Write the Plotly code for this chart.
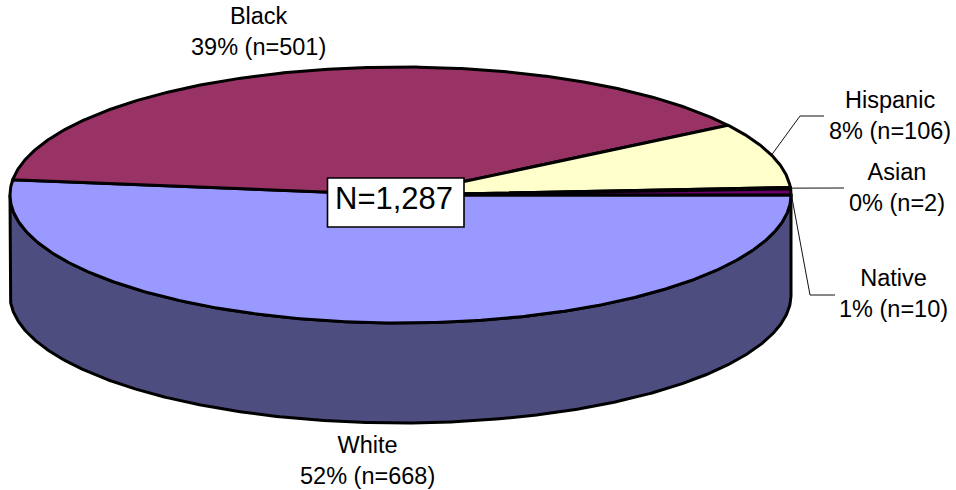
import numpy as np
import plotly.graph_objects as go

categories = ["White", "Black", "Hispanic", "Asian", "Native"]
counts = [668, 501, 106, 2, 10]
pct_labels = ["52%", "39%", "8%", "0%", "1%"]
colors = ["#9999FF", "#993366", "#FFFFCC", "#660066", "#660066"]
total_label = "N=1,287"

WALL = "#4D4D80"
CX, CY, RX, RY, DEPTH = 400.5, 195, 390.5, 128, 100
LW = 3
FONT = "Liberation Sans, Arial, sans-serif"

# label centre (px) and leader-line elbow points for each category
label_pos = {"White": (367, 460), "Black": (258, 31), "Hispanic": (890, 115),
             "Asian": (897, 187), "Native": (893, 293)}
leaders = {"Hispanic": [(800, 116), (824, 116)],
           "Asian": [(844, 188)],
           "Native": [(810, 295), (835, 295)]}

fractions = np.array(counts) / sum(counts)
edges = np.concatenate([[0], np.cumsum(fractions)]) * 2 * np.pi


def arc(a0, a1, dy=0.0):
    t = np.linspace(a0, a1, max(int((a1 - a0) * 120), 2))
    return CX + RX * np.cos(t), CY + dy + RY * np.sin(t)


fig = go.Figure()

# front wall of the cylinder
x_top, y_top = arc(0, np.pi)
x_bot, y_bot = arc(0, np.pi, DEPTH)
fig.add_trace(go.Scatter(
    x=np.concatenate([x_top, x_bot[::-1], x_top[:1]]),
    y=np.concatenate([y_top, y_bot[::-1], y_top[:1]]),
    mode="lines", fill="toself", fillcolor=WALL,
    line=dict(color="black", width=LW), hoverinfo="skip", showlegend=False))

# top face slices
for i, cat in enumerate(categories):
    xs, ys = arc(edges[i], edges[i + 1])
    fig.add_trace(go.Scatter(
        x=np.concatenate([[CX], xs, [CX]]),
        y=np.concatenate([[CY], ys, [CY]]),
        mode="lines", fill="toself", fillcolor=colors[i], name=cat,
        line=dict(color="black", width=LW), hoverinfo="skip", showlegend=False))

# leader lines, starting at the slice rim
for cat, pts in leaders.items():
    i = categories.index(cat)
    mid = (edges[i] + edges[i + 1]) / 2
    sx, sy = CX + RX * np.cos(mid), CY + RY * np.sin(mid)
    fig.add_trace(go.Scatter(
        x=[sx] + [p[0] for p in pts], y=[sy] + [p[1] for p in pts],
        mode="lines", line=dict(color="#111111", width=1),
        hoverinfo="skip", showlegend=False))

# slice labels
for i, cat in enumerate(categories):
    lx, ly = label_pos[cat]
    fig.add_annotation(x=lx, y=ly, xref="x", yref="y", showarrow=False,
                       text=f"{cat}<br>{pct_labels[i]} (n={counts[i]})",
                       align="center", font=dict(family=FONT, size=23.5, color="black"))

# total box
fig.add_shape(type="rect", x0=327.5, x1=464, y0=178, y1=227, xref="x", yref="y",
              fillcolor="white", line=dict(color="black", width=1.6), layer="above")
fig.add_annotation(x=394, y=198, xref="x", yref="y", showarrow=False,
                   text=total_label, align="center",
                   font=dict(family=FONT, size=31, color="black"))

fig.update_layout(
    width=956, height=490, autosize=False,
    margin=dict(l=0, r=0, t=0, b=0),
    paper_bgcolor="white", plot_bgcolor="white",
    xaxis=dict(range=[0, 956], visible=False, fixedrange=True),
    yaxis=dict(range=[490, 0], visible=False, fixedrange=True),
)
fig.write_html("out.html", post_script="document.body.style.margin='0';", config={"displayModeBar": False})
